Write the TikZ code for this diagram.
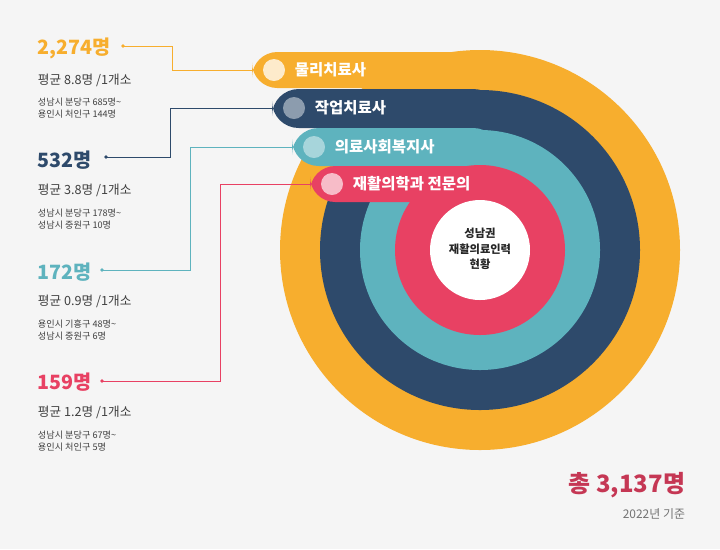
\documentclass[tikz,border=0pt]{standalone}
\usepackage{fontspec}
\setmainfont{Noto Sans CJK KR}
\usetikzlibrary{positioning}
\definecolor{orangec}{HTML}{F7AE2E}
\definecolor{navyc}{HTML}{2E4A6B}
\definecolor{tealc}{HTML}{5EB3BE}
\definecolor{redc}{HTML}{E84163}
\definecolor{bgc}{HTML}{F5F5F5}
\begin{document}
\begin{tikzpicture}[x=0.025cm,y=-0.025cm,
  tab label/.style={font=\bfseries\fontsize{11}{13}\selectfont,text=white,anchor=west},
  big num/.style={font=\bfseries\fontsize{14}{16}\selectfont,anchor=west},
  sub line/.style={font=\fontsize{9}{11}\selectfont,text=black!75,anchor=west},
  small line/.style={font=\fontsize{6.5}{8}\selectfont,text=black!75,anchor=west,align=left},
  link/.style={line width=0.5pt}]

	%background
	\fill[bgc] (0,0) rectangle (720,549);

	%rings with their tabs
	\fill[orangec] (480,250) circle (200);
	\fill[orangec,rounded corners=18] (252,52) rectangle (500,88);
	\fill[white!75!orangec] (274,70) circle (11);
	\node[tab label] (t1) at (290,70) {물리치료사};
	\fill[navyc] (480,250) circle (160);
	\fill[navyc,rounded corners=19] (272,89) rectangle (500,128);
	\fill[white!45!navyc] (294,108) circle (11);
	\node[tab label] (t2) at (310,108) {작업치료사};
	\fill[tealc] (480,250) circle (120);
	\fill[tealc,rounded corners=19] (292,128) rectangle (500,166);
	\fill[white!45!tealc] (314,147) circle (11);
	\node[tab label] (t3) at (330,147) {의료사회복지사};
	\fill[redc] (480,250) circle (85);
	\fill[redc,rounded corners=18] (310,166) rectangle (500,202);
	\fill[white!65!redc] (332,184) circle (11);
	\node[tab label] (t4) at (348,184) {재활의학과 전문의};
	\fill[white] (480,250) circle (50);
	\node[font=\bfseries\fontsize{8}{11}\selectfont,align=center,text=black!85] (c) at (480,249) {성남권\\재활의료인력\\현황};

	%left figures
	\node[big num,text=orangec] (n1) at (33,48) {2,274명};
	\node[sub line] at (33,80) {평균 8.8명 /1개소};
	\node[small line] at (33,108) {성남시 분당구 685명\textasciitilde\\용인시 처인구 144명};
	\node[big num,text=navyc] (n2) at (33,160) {532명};
	\node[sub line] at (33,190) {평균 3.8명 /1개소};
	\node[small line] at (33,219) {성남시 분당구 178명\textasciitilde\\성남시 중원구 10명};
	\node[big num,text=tealc] (n3) at (33,272) {172명};
	\node[sub line] at (33,301) {평균 0.9명 /1개소};
	\node[small line] at (33,330) {용인시 기흥구 48명\textasciitilde\\성남시 중원구 6명};
	\node[big num,text=redc] (n4) at (33,382) {159명};
	\node[sub line] at (33,412) {평균 1.2명 /1개소};
	\node[small line] at (33,441) {성남시 분당구 67명\textasciitilde\\용인시 처인구 5명};

	%connectors
	\coordinate (a1) at (123,46); \coordinate (b1) at (252,70);
	\coordinate (a2) at (106,157); \coordinate (b2) at (272,108);
	\coordinate (a3) at (102,270); \coordinate (b3) at (292,147);
	\coordinate (a4) at (102,381); \coordinate (b4) at (310,184);
	\draw[link,orangec] (a1) -- (172,46) |- (b1);
	\draw[link,navyc] (a2) -- (170,157) |- (b2);
	\draw[link,tealc] (a3) -- (190,270) |- (b3);
	\draw[link,redc] (a4) -- (220,381) |- (b4);
	\foreach \p/\c in {a1/orangec,a2/navyc,a3/tealc,a4/redc}
		\fill[\c] (\p) circle (1.8);

	%total
	\node[font=\bfseries\fontsize{17}{19}\selectfont,text=redc!85!black,anchor=east] (tot) at (690,485) {총 3,137명};
	\node[font=\fontsize{8.5}{10}\selectfont,text=black!55,anchor=east] (yr) at (690,514) {2022년 기준};
\end{tikzpicture}
\end{document}
